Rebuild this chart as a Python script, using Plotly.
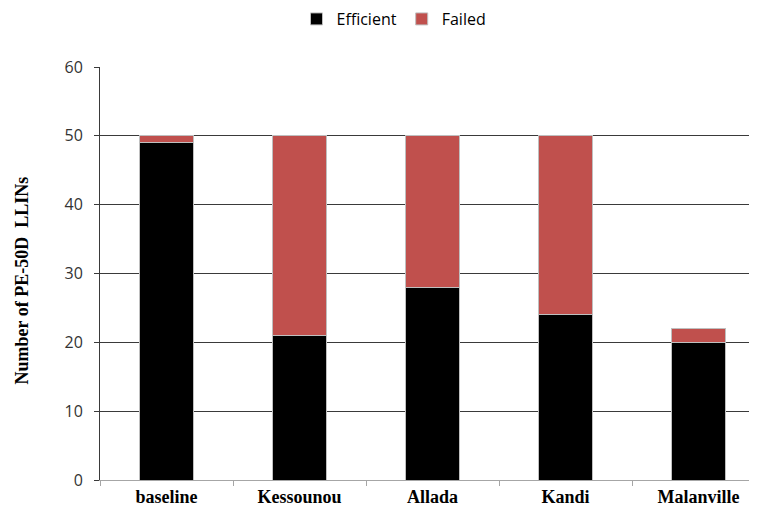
import plotly.graph_objects as go

categories = ["baseline", "Kessounou", "Allada", "Kandi", "Malanville"]
efficient = [49, 21, 28, 24, 20]
failed = [1, 29, 22, 26, 2]
y_ticks = [0, 10, 20, 30, 40, 50, 60]

W, H = 757, 512
OFF = 8  # page body margin

fig = go.Figure()
fig.add_trace(go.Bar(x=categories, y=efficient, name="Efficient",
                     marker=dict(color="#000000", line=dict(color="#bfbfbf", width=1))))
fig.add_trace(go.Bar(x=categories, y=failed, name="Failed",
                     marker=dict(color="#c0504d", line=dict(color="#bfbfbf", width=1))))

plot_left, plot_right = 100 - OFF, W
plot_top, plot_bottom = 67 - OFF, 480 - OFF

fig.update_layout(
    width=W, height=H,
    barmode="stack", bargap=0.6,
    plot_bgcolor="white", paper_bgcolor="white",
    margin=dict(l=plot_left, r=W - plot_right, t=plot_top, b=H - plot_bottom, autoexpand=False),
    legend=dict(orientation="h", x=(394 - OFF) / W, xanchor="center", xref="container",
                y=1 - (19 - OFF) / H, yanchor="middle", yref="container",
                font=dict(family="Open Sans", size=16, color="#000"), traceorder="normal",
                itemwidth=30),
    xaxis=dict(showline=True, linecolor="#a6a6a6", linewidth=1, ticks="outside",
               tickson="boundaries", tickcolor="#a6a6a6", ticklen=5, automargin=False,
               tickfont=dict(family="Liberation Serif", size=18, color="#000", weight="bold")),
    yaxis=dict(range=[0, 60], tickvals=y_ticks, showgrid=True, gridcolor="#3a3a3a",
               gridwidth=1, showline=True, linecolor="#3a3a3a", linewidth=1,
               ticks="outside", ticklen=5, tickcolor="#3a3a3a", zeroline=False,
               automargin=False, ticklabelstandoff=8,
               tickfont=dict(family="Open Sans", size=16, color="#333")),
    annotations=[dict(text="Number of PE-50D  LLINs", textangle=-90, xref="paper", yref="paper",
                      x=(21 - 100) / (plot_right - plot_left), xanchor="center",
                      y=0.5 - 7 / 413, yanchor="middle", showarrow=False,
                      font=dict(family="Liberation Serif", size=18, color="#000", weight="bold"))],
)

fig.write_html("out.html")
